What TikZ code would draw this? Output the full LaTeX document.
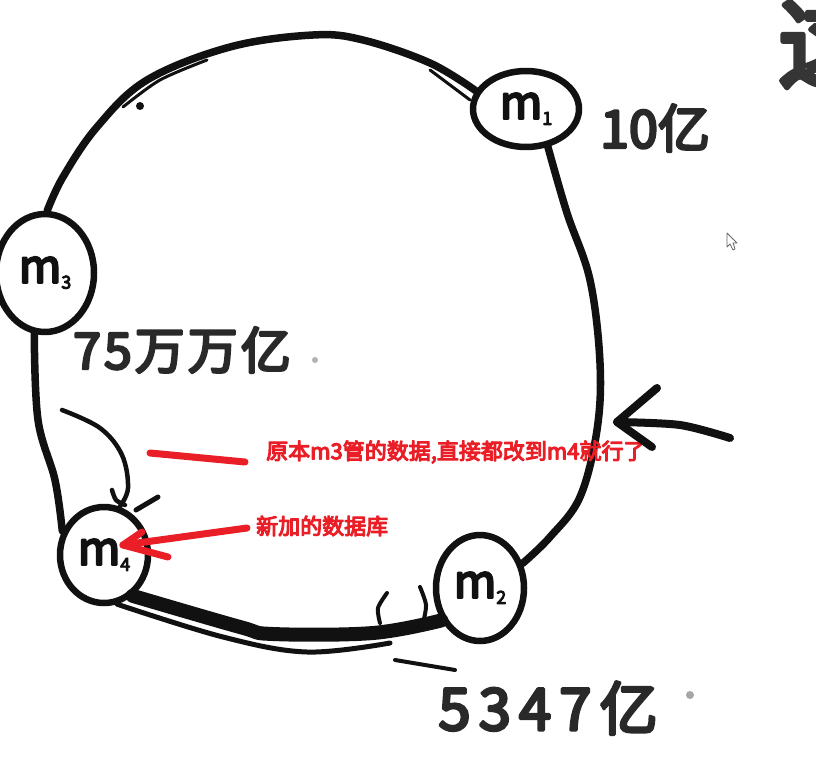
\documentclass[tikz,border=0pt]{standalone}
\usepackage{fontspec}
\newfontfamily\cjk{Noto Sans CJK SC}
\newfontfamily\cjkb{Noto Sans CJK SC}[FakeBold=5]
\newfontfamily\cjkh{Noto Sans CJK SC}[FakeBold=5]
\usetikzlibrary{shapes.geometric}
\definecolor{ink}{RGB}{17,17,17}
\definecolor{redink}{RGB}{234,30,38}
\newcommand{\msub}[1]{m{\fontsize{18}{18}\selectfont\raisebox{-6pt}{#1}}}
\begin{document}
\begin{tikzpicture}[x=1pt,y=-1pt, line cap=round, line join=round,
  stroke/.style={draw=ink, line width=7.5pt},
  mnode/.style={ellipse, draw=ink, line width=6.5pt, inner sep=0pt, font=\cjkh\fontsize{46}{46}\selectfont, text=ink},
  hand/.style={text=ink!90, inner sep=0pt},
  redtext/.style={font=\cjkb\fontsize{22}{22}\selectfont, text=redink, anchor=west, inner sep=0pt},
  redstroke/.style={draw=redink, line width=7pt}]
\useasboundingbox (0,0) rectangle (816,760);
\fill[white] (0,0) rectangle (816,760);
\begin{scope}
\clip (0,0) rectangle (816,760);
% nodes
\node[mnode, minimum width=106pt, minimum height=76pt] (m1) at (526,109) {\msub{1}};
\node[mnode, minimum width=88pt, minimum height=106pt] (m2) at (480,588) {\msub{2}};
\node[mnode, minimum width=98pt, minimum height=118pt] (m3) at (45,273) {\raisebox{-12pt}{\msub{3}}};
\node[mnode, minimum width=88pt, minimum height=96pt] (m4) at (104,555) {\msub{4}};
% ring
\draw[stroke] plot[smooth, tension=0.6] coordinates {(m3.88) (63,177) (97,127) (147,80) (230,47) (313,35) (363,40) (430,63) (m1.160)};
\draw[draw=ink, line width=3pt] plot[smooth] coordinates {(123,107) (160,80) (207,60)};
\draw[draw=ink, line width=3pt] (430,70) -- (470,100);
\fill[ink] (140,106) circle (4pt);
\draw[stroke] plot[smooth, tension=0.6] coordinates {(m1.-60) (567,213) (590,280) (600,363) (597,430) (580,497) (550,537) (m2.30)};
\draw[draw=ink, line width=14pt] plot[smooth, tension=0.6] coordinates {(m4.-55) (240,627) (273,634) (373,633) (m2.220)};
\draw[draw=ink, line width=5pt] plot[smooth, tension=0.6] coordinates {(m4.-75) (223,637) (307,652) (390,643)};
\draw[draw=ink, line width=4pt] plot[smooth] coordinates {(387,593) (378,608) (380,623)};
\draw[draw=ink, line width=4pt] plot[smooth] coordinates {(420,587) (426,605) (423,623)};
\draw[draw=ink, line width=4pt] (395,660) -- (455,670);
\draw[stroke] plot[smooth, tension=0.6] coordinates {(m3.-100) (38,420) (55,480) (m4.150)};
% labels
\node[hand, font=\cjkh\fontsize{52}{52}\selectfont] (l1) at (655,128) {10亿};
\node[hand, font=\cjkh\fontsize{50}{50}\selectfont\addfontfeature{LetterSpace=6}] (l3) at (182,350) {75万万亿};
\node[hand, font=\cjkh\fontsize{58}{58}\selectfont\addfontfeature{LetterSpace=14}] (l2) at (548,708) {5347亿};
\fill[black!30] (315,360) circle (3pt);
\fill[black!35] (690,695) circle (4pt);
% black curved arrow to m4
\coordinate (c0) at (62,410);
\draw[stroke, line width=4.5pt] plot[smooth, tension=0.6] coordinates {(c0) (100,428) (122,455) (128,488) (m4.72)};
\draw[stroke, line width=4.5pt] plot[smooth] coordinates {(112,490) (116,500) (125,505)};
\draw[stroke, line width=5pt] (158,497) -- (136,510);
% red annotations
\node[redtext] (t1) at (266,452) {原本m3管的数据,直接都改到m4就行了};
\node[redtext] (t2) at (256,526) {新加的数据库};
\coordinate (r1) at (150,453);
\draw[redstroke] (r1) -- ([xshift=-21pt,yshift=-10pt]t1.west);
\coordinate (rt) at (123,545);
\draw[redstroke] ([xshift=-9pt,yshift=-2pt]t2.west) -- (rt);
\draw[redstroke] (142,532) -- (rt) -- (168,557);
% black arrow at right
\coordinate (bt) at (617,422);
\coordinate (bs) at (730,438);
\draw[stroke, line width=8pt] plot[smooth] coordinates {(bs) (680,425) (bt)};
\draw[stroke, line width=8pt] (657,388) -- (bt) -- (652,447);
% partial character top right
\node[text=ink!85, font=\cjkh\fontsize{100}{100}\selectfont, inner sep=0pt] (zh) at (828,42) {这};
% cursor
\draw[fill=white, draw=black!60, line width=0.8pt] (727,233) -- (727,247) -- (730,244) -- (733,250) -- (735,249) -- (733,243) -- (737,243) -- cycle;
\end{scope}
\end{tikzpicture}
\end{document}
